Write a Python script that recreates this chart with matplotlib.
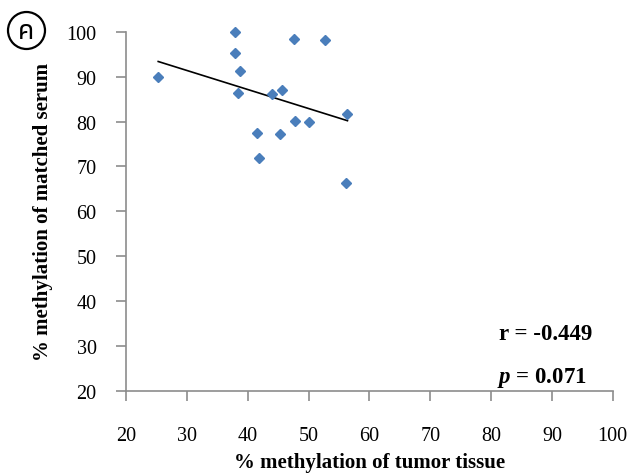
import numpy as np
import matplotlib.pyplot as plt
from matplotlib.patches import Ellipse

plt.rcParams['mathtext.fontset'] = 'custom'
plt.rcParams['mathtext.it'] = 'Liberation Serif:italic:bold'
plt.rcParams['mathtext.rm'] = 'Liberation Serif:bold'

# ข้อมูลที่อ่านจากภาพ
tumor = [25.3, 38.0, 38.0, 38.8, 38.4, 47.6, 52.7, 44.0, 45.6, 56.3, 47.8, 50.0, 41.5, 45.3, 41.9, 56.1]
serum = [89.9, 100.0, 95.2, 91.2, 86.3, 98.4, 98.1, 86.2, 87.1, 81.6, 80.1, 79.9, 77.5, 77.2, 71.8, 66.2]
fit_x = [25.3, 56.4]
fit_y = [93.4, 80.2]
r_text = 'r = -0.449'
p_text = r'$p$ = 0.071'

fig = plt.figure(figsize=(6.33, 4.77), dpi=100)
ax = fig.add_axes([0.199, 0.179, 0.769, 0.752])

ax.plot(fit_x, fit_y, color='black', lw=1.2, zorder=2)
ax.plot(tumor, serum, 'D', color='#4A7EBB', ms=4.6, mec='#4A7EBB', zorder=3, clip_on=False)

ax.set_xlim(20, 100)
ax.set_ylim(20, 100)
ax.set_xticks(np.arange(20, 101, 10))
ax.set_yticks(np.arange(20, 101, 10))
for s in ['top', 'right']:
    ax.spines[s].set_visible(False)
for s in ['left', 'bottom']:
    ax.spines[s].set_color('#8c8c8c')
    ax.spines[s].set_linewidth(1.2)
ax.tick_params(axis='both', direction='out', color='#8c8c8c', width=1.2,
               labelsize=14.5, labelfontfamily='Liberation Serif')
ax.tick_params(axis='x', length=7.5, pad=18)
ax.tick_params(axis='y', length=7.2, pad=14)

ax.set_xlabel('% methylation of tumor tissue', family='Liberation Serif',
              fontweight='bold', fontsize=15, labelpad=5)
ax.set_ylabel('% methylation of matched serum', family='Liberation Serif',
              fontweight='bold', fontsize=15, labelpad=10)

ax.text(0.862, 0.158, r_text, transform=ax.transAxes, ha='center', va='center',
        family='Liberation Serif', fontweight='bold', fontsize=16.5)
ax.text(0.855, 0.038, p_text, transform=ax.transAxes, ha='center', va='center',
        family='Liberation Serif', fontweight='bold', fontsize=16.5)

# ตัวอักษรในวงกลม
fig.patches.append(Ellipse((26.5 / 633, 1 - 31.5 / 477), 37 / 633, 37 / 477,
                           transform=fig.transFigure, fc='white', ec='black', lw=1.6))
fig.text(26.5 / 633, 1 - 32 / 477, 'ค', ha='center', va='center', fontsize=19,
         family=['Noto Sans Thai', 'Loma', 'Garuda', 'Tlwg Typo', 'DejaVu Sans'])

fig.savefig('out.png', dpi=100)
